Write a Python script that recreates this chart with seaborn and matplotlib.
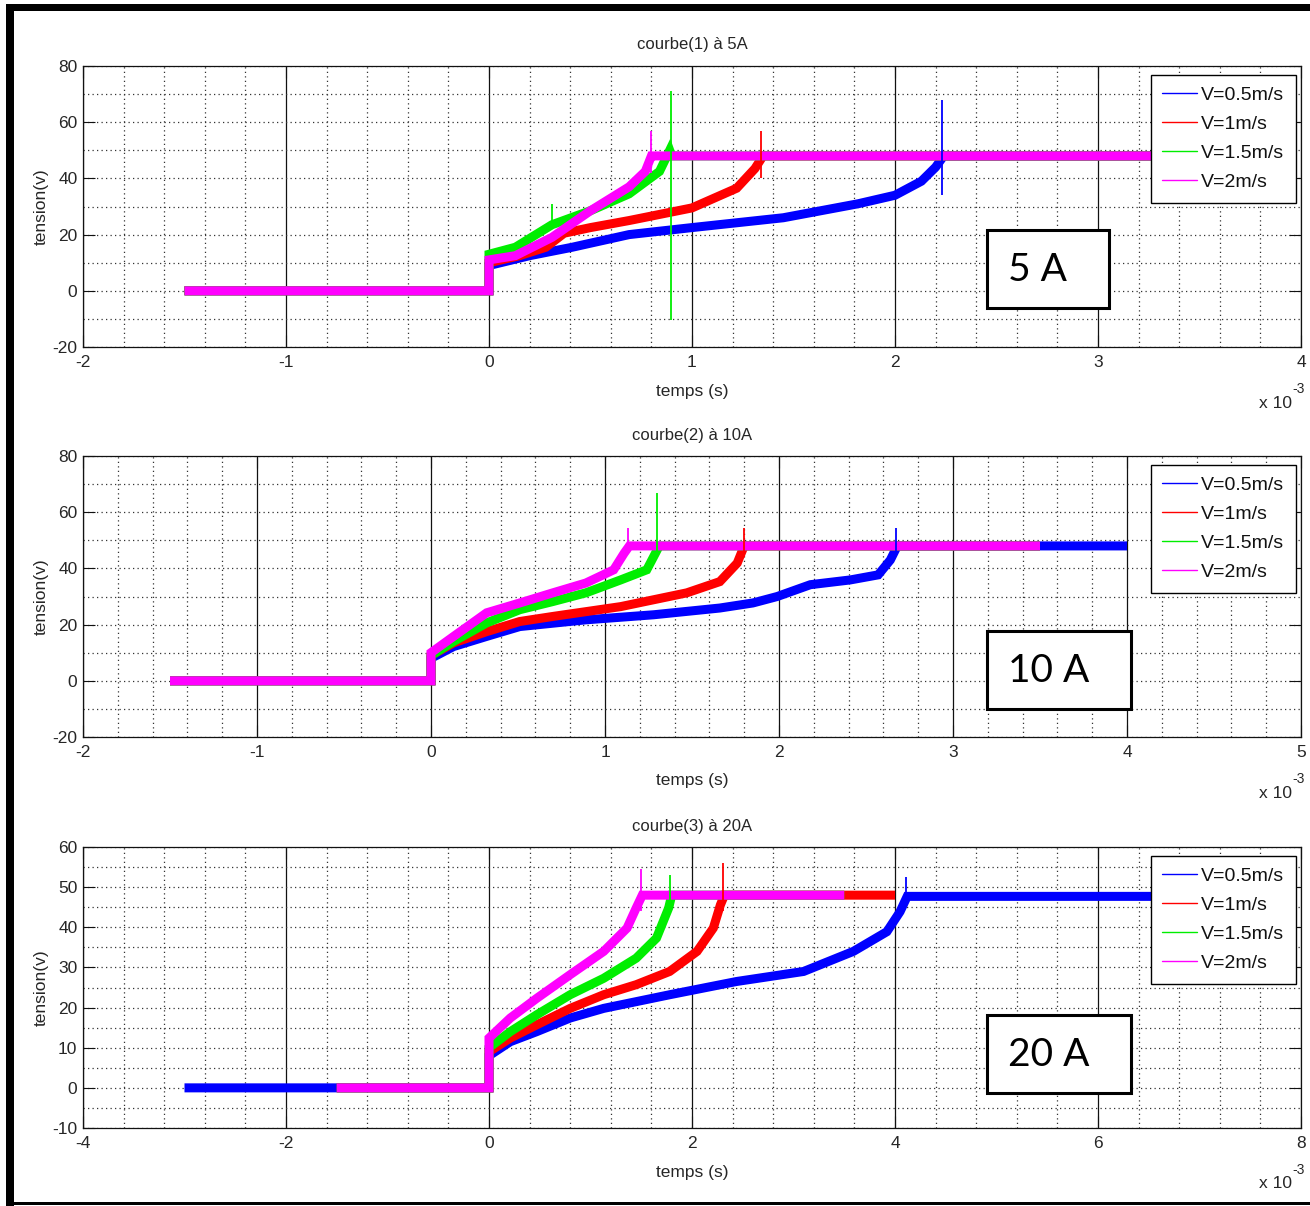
import numpy as np
import pandas as pd
import matplotlib
matplotlib.use("Agg")
import matplotlib.pyplot as plt
import seaborn as sns
from matplotlib.lines import Line2D
from matplotlib.patches import Rectangle
from matplotlib.ticker import MultipleLocator
from matplotlib.font_manager import FontProperties

# ---------------- data (time in ms, voltage in V) ----------------
series_labels = ['V=0.5m/s', 'V=1m/s', 'V=1.5m/s', 'V=2m/s']
series_colors = ['#0000ff', '#ff0000', '#00ee00', '#ff00ff']
titles = ['courbe(1) à 5A', 'courbe(2) à 10A', 'courbe(3) à 20A']
box_labels = ['5 A', '10 A', '20 A']

# courbe(1) 5 A
c1_v05_t = [-1.5, 0, 0, 0.2, 0.41, 0.69, 1.0, 1.45, 1.82, 2.0, 2.13, 2.2, 2.24, 3.5]
c1_v05_v = [0, 0, 9, 12.5, 15.5, 20, 22.5, 26, 31, 34, 39, 44, 48, 48]
c1_v1_t = [-1.5, 0, 0, 0.15, 0.28, 0.37, 0.5, 0.69, 1.0, 1.22, 1.31, 1.35, 3.5]
c1_v1_v = [0, 0, 10, 12.5, 15.5, 20.5, 22.5, 25, 29.5, 36.5, 43.5, 48, 48]
c1_v15_t = [-1.5, 0, 0, 0.13, 0.31, 0.5, 0.69, 0.84, 0.89, 0.9, 3.5]
c1_v15_v = [0, 0, 13, 15.5, 23.5, 28.5, 34.5, 42.5, 50, 48, 48]
c1_v2_t = [-1.5, 0, 0, 0.13, 0.31, 0.5, 0.69, 0.77, 0.8, 0.81, 3.5]
c1_v2_v = [0, 0, 11, 12.5, 19, 28.5, 37, 42.5, 48, 48, 48]
c1_spike_t = [2.23, 1.34, 0.895, 0.31, 0.8]
c1_spike_lo = [34, 40, -10.5, 22, 42]
c1_spike_hi = [68, 57, 71, 31, 57]
c1_spike_s = [0, 1, 2, 2, 3]

# courbe(2) 10 A
c2_v05_t = [-1.5, 0, 0, 0.13, 0.32, 0.51, 0.89, 1.28, 1.66, 1.85, 1.99, 2.18, 2.41, 2.57, 2.64, 2.68, 4.0]
c2_v05_v = [0, 0, 8, 12.2, 15.8, 19.3, 21.7, 23.5, 25.9, 27.7, 30, 34.2, 35.9, 37.7, 43, 48, 48]
c2_v1_t = [-1.5, 0, 0, 0.13, 0.32, 0.51, 0.70, 1.09, 1.47, 1.66, 1.76, 1.80, 3.5]
c2_v1_v = [0, 0, 9, 13.5, 17.5, 21.1, 22.9, 26.4, 31.3, 35.3, 41.9, 48, 48]
c2_v15_t = [-1.5, 0, 0, 0.13, 0.32, 0.51, 0.70, 0.89, 1.09, 1.24, 1.30, 1.31, 3.5]
c2_v15_v = [0, 0, 9, 14, 20.6, 25.3, 28.2, 31.3, 35.9, 39.5, 46.6, 48, 48]
c2_v2_t = [-1.5, 0, 0, 0.13, 0.32, 0.51, 0.70, 0.89, 1.05, 1.11, 1.14, 3.5]
c2_v2_v = [0, 0, 10, 15.8, 24.2, 27.7, 31.3, 34.8, 39.5, 45.4, 48, 48]
c2_spike_t = [2.67, 1.80, 1.30, 1.13]
c2_spike_lo = [45, 44, 44, 45]
c2_spike_hi = [54.5, 54.5, 67, 54.5]
c2_spike_s = [0, 1, 2, 3]

# courbe(3) 20 A
c3_v05_t = [-3.0, 0, 0, 0.21, 0.47, 0.80, 1.13, 1.78, 2.44, 3.10, 3.59, 3.92, 4.05, 4.12, 7.0]
c3_v05_v = [0, 0, 8, 11.5, 14, 17.4, 19.8, 23.2, 26.5, 29, 34, 38.9, 43.9, 47.7, 47.7]
c3_v1_t = [-1.5, 0, 0, 0.21, 0.47, 0.80, 1.13, 1.45, 1.78, 2.05, 2.21, 2.28, 2.32, 4.0]
c3_v1_v = [0, 0, 9, 12.4, 15.7, 19.8, 23.2, 25.7, 29, 34, 39.8, 45.6, 48, 48]
c3_v15_t = [-1.5, 0, 0, 0.21, 0.47, 0.80, 1.13, 1.45, 1.65, 1.77, 1.80, 3.5]
c3_v15_v = [0, 0, 10, 14, 18.2, 23.2, 27.3, 32.3, 37.3, 44.8, 48, 48]
c3_v2_t = [-1.5, 0, 0, 0.21, 0.47, 0.80, 1.13, 1.36, 1.45, 1.51, 3.5]
c3_v2_v = [0, 0, 12.4, 17.4, 22.3, 28.2, 34, 39.8, 44.8, 48, 48]
c3_spike_t = [4.11, 2.31, 1.78, 1.50]
c3_spike_lo = [45, 44, 45, 44]
c3_spike_hi = [52.5, 56, 53, 54.5]
c3_spike_s = [0, 1, 2, 3]

x_limits = [(-2, 4), (-2, 5), (-4, 8)]
x_major = [1, 1, 2]
x_minor = [0.2, 0.2, 0.4]
y_limits = [(-20, 80), (-20, 80), (-10, 60)]
y_major = [20, 20, 10]
y_minor = [10, 10, 5]

panels = [
    ([(c1_v05_t, c1_v05_v), (c1_v1_t, c1_v1_v), (c1_v15_t, c1_v15_v), (c1_v2_t, c1_v2_v)],
     (c1_spike_t, c1_spike_lo, c1_spike_hi, c1_spike_s)),
    ([(c2_v05_t, c2_v05_v), (c2_v1_t, c2_v1_v), (c2_v15_t, c2_v15_v), (c2_v2_t, c2_v2_v)],
     (c2_spike_t, c2_spike_lo, c2_spike_hi, c2_spike_s)),
    ([(c3_v05_t, c3_v05_v), (c3_v1_t, c3_v1_v), (c3_v15_t, c3_v15_v), (c3_v2_t, c3_v2_v)],
     (c3_spike_t, c3_spike_lo, c3_spike_hi, c3_spike_s)),
]

# ---------------- style ----------------
sns.set_style("ticks")
FAM = ['Liberation Sans', 'DejaVu Sans']
plt.rcParams['font.family'] = FAM
plt.rcParams['axes.unicode_minus'] = False
TXT = '#262626'

W, H = 1310, 1206
fig = plt.figure(figsize=(W / 100, H / 100), dpi=100)
fig.patch.set_facecolor('white')

ax_left, ax_right = 83, 1301
ax_tops = [66, 456, 847]
ax_h = 281
ax_w = ax_right - ax_left
box_rects = [(987, 230, 1109, 308), (987, 631, 1131, 709), (987, 1015, 1131, 1093)]

palette = dict(zip(series_labels, series_colors))
dotted = (0, (1, 2.6))

for i, ((series, spikes), title) in enumerate(zip(panels, titles)):
    top = ax_tops[i]
    ax = fig.add_axes([ax_left / W, 1 - (top + ax_h) / H, ax_w / W, ax_h / H])

    rows = []
    for lab, (ts, vs) in zip(series_labels, series):
        for k, (t, v) in enumerate(zip(ts, vs)):
            rows.append({'temps': t, 'tension': v, 'serie': lab, 'k': k})
    df = pd.DataFrame(rows)
    sns.lineplot(data=df, x='temps', y='tension', hue='serie', hue_order=series_labels,
                 palette=palette, sort=False, estimator=None, linewidth=6.5,
                 legend=False, ax=ax, solid_joinstyle='miter', solid_capstyle='butt')

    st, slo, shi, ss = spikes
    for t, lo, hi, s in zip(st, slo, shi, ss):
        ax.vlines(t, lo, hi, colors=series_colors[s], linewidth=1.3, zorder=3)

    ax.set_xlim(*x_limits[i])
    ax.set_ylim(*y_limits[i])
    ax.xaxis.set_major_locator(MultipleLocator(x_major[i]))
    ax.xaxis.set_minor_locator(MultipleLocator(x_minor[i]))
    ax.yaxis.set_major_locator(MultipleLocator(y_major[i]))
    ax.yaxis.set_minor_locator(MultipleLocator(y_minor[i]))

    ax.set_axisbelow(True)
    ax.xaxis.grid(True, which='major', color='#111111', lw=0.9, ls='-')
    ax.xaxis.grid(True, which='minor', color='#333333', lw=0.9, ls=dotted)
    ax.yaxis.grid(True, which='both', color='#333333', lw=0.9, ls=dotted)

    ax.tick_params(which='major', direction='in', length=8.5, width=0.8, top=True, right=True,
                   labelsize=12.5, labelcolor=TXT, color='#111111')
    ax.tick_params(axis='x', which='major', pad=6)
    ax.tick_params(axis='y', which='major', pad=4)
    ax.tick_params(which='minor', length=0)
    for sp in ax.spines.values():
        sp.set_color('#111111')
        sp.set_linewidth(0.9)
        sp.set_visible(True)

    ax.set_title(title, fontsize=12, color=TXT, y=1 + 21 / ax_h, pad=0, va='center')
    ax.set_xlabel('temps (s)', fontsize=12.5, color=TXT, va='center')
    ax.xaxis.set_label_coords(0.5, -44 / ax_h)
    ax.set_ylabel('tension(v)', fontsize=12.5, color=TXT, va='center')
    ax.yaxis.set_label_coords(-(ax_left - 41) / ax_w, 0.5)

    ax.text(1 - 9 / ax_w, -56 / ax_h, 'x 10', transform=ax.transAxes, ha='right', va='center',
            fontsize=12.5, color=TXT)
    ax.text(1 - 9 / ax_w, -42 / ax_h, '-3', transform=ax.transAxes, ha='left', va='center',
            fontsize=10, color=TXT)

    handles = [Line2D([0], [0], color=c, lw=1.0) for c in series_colors]
    leg = ax.legend(handles, series_labels, loc='upper right',
                    bbox_to_anchor=(1 - 5 / ax_w, 1 - 9 / ax_h), borderaxespad=0,
                    frameon=True, fancybox=False, framealpha=1, edgecolor='black',
                    prop=FontProperties(family=FAM, size=14),
                    handlelength=1.8, handletextpad=0.2, labelspacing=0.58, borderpad=0.6)
    leg.get_frame().set_linewidth(1.0)
    for t in leg.get_texts():
        t.set_color('#111111')

    x0, y0, x1, y1 = box_rects[i]
    fig.add_artist(Rectangle((x0 / W, 1 - y1 / H), (x1 - x0) / W, (y1 - y0) / H,
                             transform=fig.transFigure, facecolor='white', edgecolor='black',
                             linewidth=2.2, zorder=10))
    fig.text((x0 + 21) / W, 1 - ((y0 + y1) / 2 + 1) / H, box_labels[i],
             family=['Lato', 'Open Sans', 'DejaVu Sans'], fontsize=28, color='black',
             ha='left', va='center', zorder=11)

# thick black frame of the figure
fig.add_artist(Rectangle((6 / W, 0), 8 / W, 1 - 4 / H, transform=fig.transFigure,
                         facecolor='black', edgecolor='none', zorder=20))
fig.add_artist(Rectangle((6 / W, 1 - 11 / H), 1 - 6 / W, 7 / H, transform=fig.transFigure,
                         facecolor='black', edgecolor='none', zorder=20))
fig.add_artist(Rectangle((6 / W, 1 / H), 1 - 6 / W, 3 / H, transform=fig.transFigure,
                         facecolor='black', edgecolor='none', zorder=20))

fig.savefig('out.png', dpi=100, facecolor='white')
